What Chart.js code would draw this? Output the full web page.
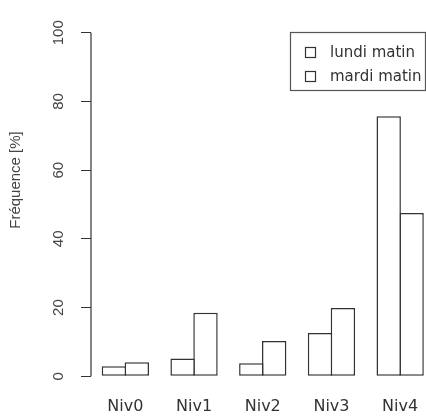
<!DOCTYPE html>
<html>
<head>
<meta charset="utf-8">
<script src="https://cdn.jsdelivr.net/npm/chart.js@4"></script>
<style>
    html, body { margin: 0; padding: 0; background: #fff; overflow: hidden; }
    #wrap { position: absolute; left: 0; top: 0; width: 440px; height: 416px; }
</style>
</head>
<body>
<div id="wrap"><canvas id="freqChart" width="440" height="416"></canvas></div>
<script>
// data
const categories = ["Niv0", "Niv1", "Niv2", "Niv3", "Niv4"];
const seriesNames = ["lundi matin", "mardi matin"];
const lundiValues = [2.9, 5.2, 3.8, 12.6, 75.7];
const mardiValues = [4.1, 18.5, 10.3, 19.9, 47.5];
const yTicks = [0, 20, 40, 60, 80, 100];
const yTitle = "Fréquence [%]";

const INK = "#333";

// R-style y axis line, only from first to last tick
const axisLinePlugin = {
    id: "axisLine",
    afterDraw(chart) {
        const y = chart.scales.y;
        const x = chart.chartArea.left;
        const ctx = chart.ctx;
        ctx.save();
        ctx.strokeStyle = INK;
        ctx.lineWidth = 1.2;
        ctx.beginPath();
        ctx.moveTo(x, y.getPixelForValue(yTicks[0]));
        ctx.lineTo(x, y.getPixelForValue(yTicks[yTicks.length - 1]));
        ctx.stroke();

        // rotated axis title, placed like the reference
        ctx.translate(16, 180);
        ctx.rotate(-Math.PI / 2);
        ctx.fillStyle = "#444";
        ctx.font = "15px 'Liberation Sans', Arial, sans-serif";
        ctx.textAlign = "center";
        ctx.textBaseline = "middle";
        ctx.fillText(yTitle, 0, 0);
        ctx.restore();
    },
};

// boxed legend in the top-right corner
const boxLegendPlugin = {
    id: "boxLegend",
    afterDraw(chart) {
        const ctx = chart.ctx;
        ctx.save();
        ctx.strokeStyle = "#555";
        ctx.lineWidth = 1.2;
        ctx.strokeRect(290.5, 32.5, 135, 58);
        ctx.font = "15px 'DejaVu Sans', sans-serif";
        ctx.textBaseline = "middle";
        ctx.fillStyle = "#333";
        chart.data.datasets.forEach((ds, i) => {
            const cy = 53 + i * 24;
            ctx.lineWidth = 1.2;
            ctx.strokeStyle = ds.borderColor;
            ctx.strokeRect(305.5, cy - 5.5, 10, 10);
            ctx.fillText(ds.label, 330, cy);
        });
        ctx.restore();
    },
};

// bars overlap by one border width so the shared edge is a single line
const barStyle = {
    backgroundColor: "#fff",
    borderColor: INK,
    borderWidth: 1.5,
    borderSkipped: false,
    inflateAmount: 0,
};

new Chart(document.getElementById("freqChart"), {
    type: "bar",
    data: {
        labels: categories,
        datasets: [
            { label: seriesNames[0], data: lundiValues, ...barStyle },
            { label: seriesNames[1], data: mardiValues, ...barStyle },
        ],
    },
    options: {
        responsive: false,
        animation: false,
        categoryPercentage: 2 / 3,
        barPercentage: 1.065,
        layout: { padding: { left: 0, right: 5.5, top: 8, bottom: 0 } },
        plugins: {
            legend: { display: false },
            tooltip: { enabled: false },
        },
        scales: {
            x: {
                grid: { display: false, drawTicks: false },
                border: { display: false },
                ticks: {
                    color: "#333",
                    padding: 7,
                    font: { family: "'DejaVu Sans', sans-serif", size: 16 },
                },
                afterFit: (scale) => { scale.height = 26; },
            },
            y: {
                min: -4,
                max: 104,
                afterBuildTicks: (scale) => {
                    scale.ticks = yTicks.map((v) => ({ value: v }));
                },
                afterFit: (scale) => { scale.width = 91; },
                grid: {
                    drawOnChartArea: false,
                    drawTicks: true,
                    tickLength: 10,
                    color: INK,
                    lineWidth: 1,
                },
                border: { display: false },
                ticks: {
                    color: "#444",
                    padding: 10,
                    minRotation: 90,
                    maxRotation: 90,
                    crossAlign: "center",
                    font: { family: "'Liberation Sans', Arial, sans-serif", size: 15 },
                },
            },
        },
    },
    plugins: [axisLinePlugin, boxLegendPlugin],
});
</script>
</body>
</html>
